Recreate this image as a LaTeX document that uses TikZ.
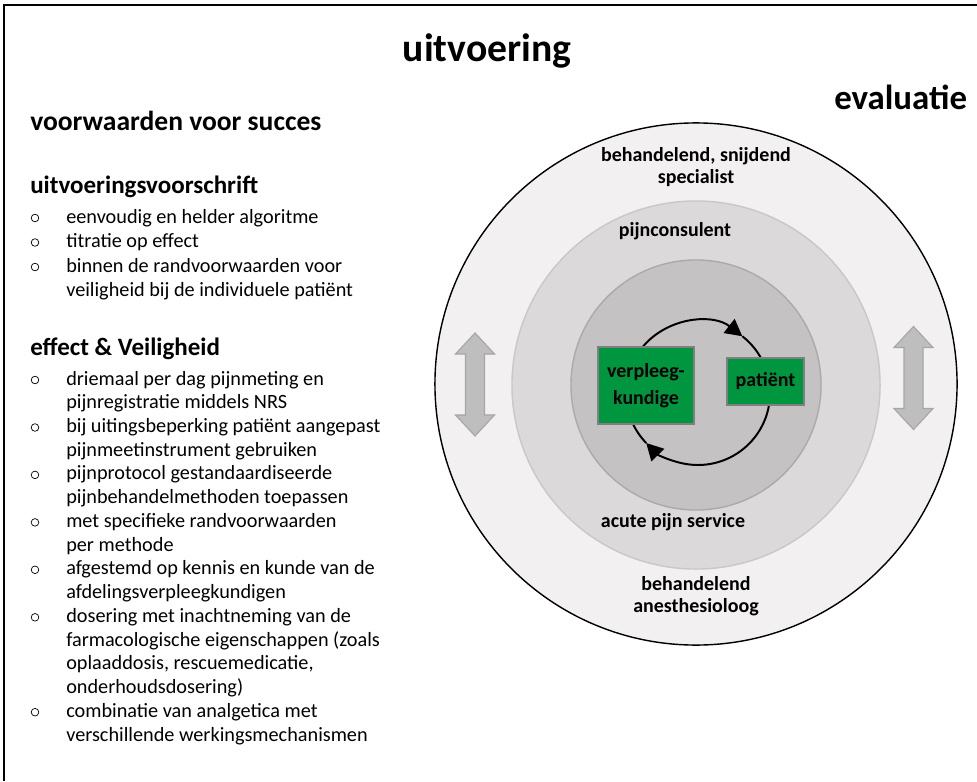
\documentclass[tikz,border=0pt]{standalone}
\usepackage{xcolor}
\usepackage{fontspec}
\setmainfont{Carlito}
\usetikzlibrary{arrows.meta, calc}

\definecolor{ringout}{HTML}{F2F0F1}
\definecolor{ringmid}{HTML}{DBD9DA}
\definecolor{ringmidline}{HTML}{C9C7C8}
\definecolor{ringin}{HTML}{C4C2C3}
\definecolor{ringinline}{HTML}{ABA9AA}
\definecolor{actorgreen}{HTML}{00963F}
\definecolor{actorline}{HTML}{7F7F7F}
\definecolor{updownfill}{HTML}{BFBEBE}
\definecolor{updownline}{HTML}{A6A6A6}

\begin{document}
\begin{tikzpicture}[x=0.025cm, y=-0.025cm, >={Triangle[length=4.2mm, width=4.4mm]},
  every node/.style={inner sep=0pt},
  hdr/.style={anchor=base west, font=\bfseries\fontsize{19.6}{23}\selectfont},
  subhdr/.style={anchor=base west, font=\bfseries\fontsize{17.8}{21}\selectfont},
  txt/.style={anchor=base west, font=\fontsize{14.4}{17.5}\selectfont},
  bul/.style={circle, draw, line width=0.5pt, minimum size=0.19cm},
  ring/.style={circle, line width=1pt},
  role/.style={font=\bfseries\fontsize{14.2}{15.6}\selectfont, align=center},
  actor/.style={draw=actorline, fill=actorgreen, line width=2pt, align=center, font=\bfseries\fontsize{14.2}{19}\selectfont},
  updown/.style={fill=updownfill, draw=updownline, line width=0.8pt}]
  \useasboundingbox (0,0) rectangle (977,781);
  \fill[white] (0,0) rectangle (977,781);
  \draw[line width=2.1pt] (977,5) -- (4,5) -- (4,781);

  % titles
  \node[anchor=base, font=\bfseries\fontsize{28.2}{33}\selectfont] (title) at (487,62) {uitvoering};
  \node[anchor=base west, font=\bfseries\fontsize{24.8}{29}\selectfont] (evaluatie) at (834,110) {evaluatie};

  % left column
  \node[hdr] (succes) at (30,131) {voorwaarden voor succes};
  \node[subhdr] (voorschrift) at (30,193) {uitvoeringsvoorschrift};
  \node[txt] (v1) at (66,223) {eenvoudig en helder algoritme};
  \node[txt] (v2) at (66,247.5) {titratie op effect};
  \node[txt] (v3) at (66,272) {binnen de randvoorwaarden voor};
  \node[txt] (v3b) at (66,296.5) {veiligheid bij de individuele patiënt};
  \node[bul] (bv1) at ($(v1.base west)+(-31,-5)$) {};
  \node[bul] (bv2) at ($(v2.base west)+(-31,-5)$) {};
  \node[bul] (bv3) at ($(v3.base west)+(-31,-5)$) {};

  \node[subhdr] (veilig) at (30,355) {effect \& Veiligheid};
  \node[txt] (e1) at (66,385) {driemaal per dag pijnmeting en};
  \node[txt] (e1b) at (66,408.7) {pijnregistratie middels NRS};
  \node[txt] (e2) at (66,432.5) {bij uitingsbeperking patiënt aangepast};
  \node[txt] (e2b) at (66,456.2) {pijnmeetinstrument gebruiken};
  \node[txt] (e3) at (66,479.9) {pijnprotocol gestandaardiseerde};
  \node[txt] (e3b) at (66,503.7) {pijnbehandelmethoden toepassen};
  \node[txt] (e4) at (66,527.4) {met specifieke randvoorwaarden};
  \node[txt] (e4b) at (66,551.1) {per methode};
  \node[txt] (e5) at (66,574.8) {afgestemd op kennis en kunde van de};
  \node[txt] (e5b) at (66,598.6) {afdelingsverpleegkundigen};
  \node[txt] (e6) at (66,622.3) {dosering met inachtneming van de};
  \node[txt] (e6b) at (66,646) {farmacologische eigenschappen (zoals};
  \node[txt] (e6c) at (66,669.8) {oplaaddosis, rescuemedicatie,};
  \node[txt] (e6d) at (66,693.5) {onderhoudsdosering)};
  \node[txt] (e7) at (66,717.2) {combinatie van analgetica met};
  \node[txt] (e7b) at (66,741) {verschillende werkingsmechanismen};
  \node[bul] (be1) at ($(e1.base west)+(-31,-5)$) {};
  \node[bul] (be2) at ($(e2.base west)+(-31,-5)$) {};
  \node[bul] (be3) at ($(e3.base west)+(-31,-5)$) {};
  \node[bul] (be4) at ($(e4.base west)+(-31,-5)$) {};
  \node[bul] (be5) at ($(e5.base west)+(-31,-5)$) {};
  \node[bul] (be6) at ($(e6.base west)+(-31,-5)$) {};
  \node[bul] (be7) at ($(e7.base west)+(-31,-5)$) {};

  % rings
  \node[ring, draw=black, fill=ringout, minimum size=13.05cm] (outer) at (696,384) {};
  \node[ring, draw=ringmidline, fill=ringmid, minimum size=9.2cm] (middle) at (696,385) {};
  \node[ring, draw=ringinline, fill=ringin, minimum size=6.25cm] (inner) at (696,385) {};

  \node[role] (specialist) at (696,167) {behandelend, snijdend\\specialist};
  \node[role] (consulent) at (675,231) {pijnconsulent};
  \node[role] (aps) at (673,522) {acute pijn service};
  \node[role] (anesth) at (696,596) {behandelend\\anesthesioloog};

  % up-down arrows
  \coordinate (lar) at (475,384.5);
  \coordinate (rar) at (913.5,378);
  \draw[updown] ($(lar)+(0,-51.5)$) -- ++(19.5,21) -- ++(-10,0) -- ++(0,61) -- ++(10,0) -- ++(-19.5,21)
    -- ++(-19.5,-21) -- ++(10,0) -- ++(0,-61) -- ++(-10,0) -- cycle;
  \draw[updown] ($(rar)+(0,-51.5)$) -- ++(19.5,21) -- ++(-10,0) -- ++(0,61) -- ++(10,0) -- ++(-19.5,21)
    -- ++(-19.5,-21) -- ++(10,0) -- ++(0,-61) -- ++(-10,0) -- cycle;

  % cycle
  \coordinate (lc) at (698,393);
  \draw[->, line width=1.4pt] ($(lc)+(136:72)$) arc[start angle=136, end angle=308, radius=72];
  \draw[->, line width=1.4pt] ($(lc)+(308:72)$) arc[start angle=308, end angle=496, radius=72];

  \node[actor, minimum width=2.4cm, minimum height=1.925cm] (nurse) at (646,385.5) {verpleeg-\\kundige};
  \node[actor, minimum width=1.925cm, minimum height=1.175cm] (patient) at (765.5,381.5) {patiënt};
\end{tikzpicture}
\end{document}
